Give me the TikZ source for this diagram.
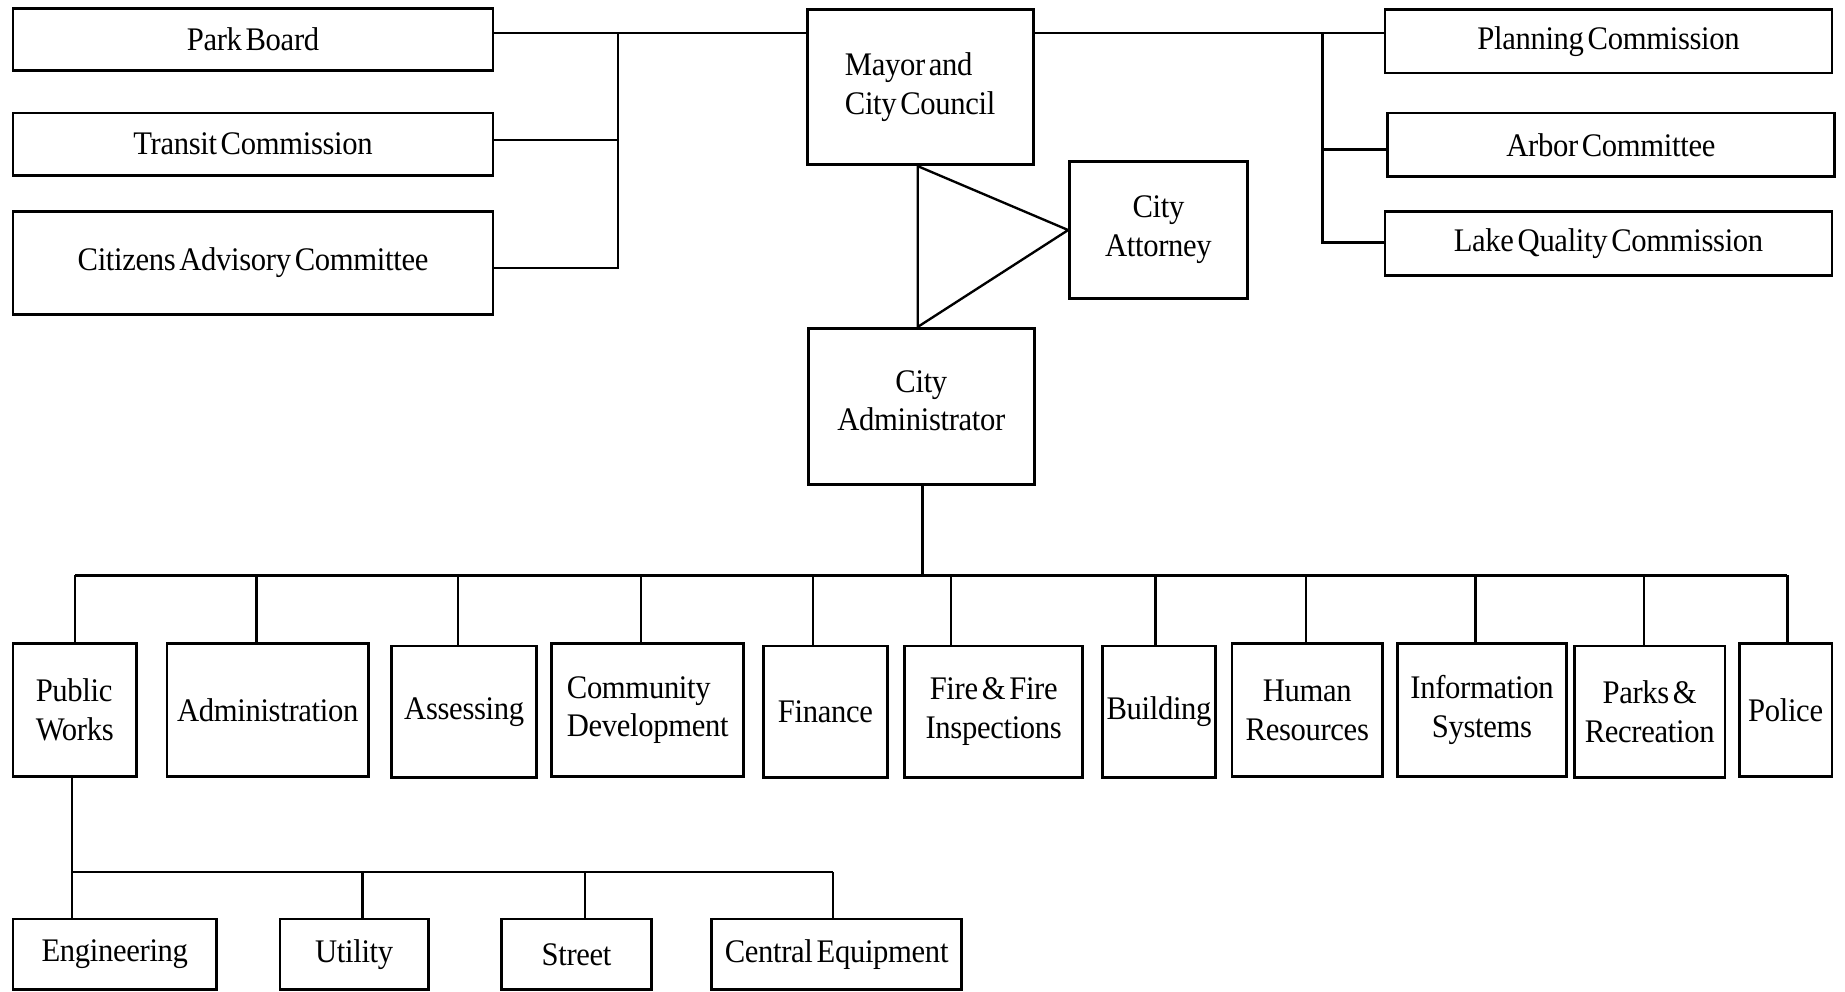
\documentclass[tikz,border=0pt]{standalone}
\usepackage{fontspec}
\setmainfont{Liberation Serif}[FakeStretch=0.93,LetterSpace=-1,WordSpace=0.5]
\begin{document}
\begin{tikzpicture}[x=0.5pt,y=-0.5pt,
  box/.style={draw,line width=1.2pt,inner sep=0pt,align=center,
    font=\fontsize{14}{16.5}\selectfont},
  conn/.style={line width=1pt}]
\useasboundingbox (0,0) rectangle (1568,843);
\newcommand\B[7][center]{\node[box,align=#1,minimum width={#5*0.5pt},minimum height={#6*0.5pt}] (#2) at (#3,#4) {#7};}
% top left
\B{pb}{215}{33.5}{408}{53}{Park Board}
\B{tc}{215}{122.5}{408}{53}{Transit Commission}
\B{cac}{215}{223.5}{408}{87}{Citizens Advisory Committee}
% centre
\B[left]{mayor}{782}{74}{192}{132}{Mayor and\\City Council}
\B{att}{984.5}{195.5}{151}{117}{City\\Attorney}
\B{adm}{783}{345.5}{192}{133}{City\\Administrator\\[-11.5pt]}
% top right
\B{pc}{1367}{35}{380}{54}{Planning Commission}
\B{ac}{1369}{123}{380}{54}{Arbor Committee}
\B{lq}{1367}{207}{380}{54}{Lake Quality Commission}
% departments
\B[left]{pw}{63.5}{603.5}{105}{113}{Public\\Works}
\B{admin}{227.5}{603.5}{171}{113}{Administration}
\B{ass}{394.5}{605}{123}{112}{Assessing}
\B[left]{cd}{550.5}{603.5}{163}{113}{Community\\Development}
\B{fin}{701.5}{605}{105}{112}{Finance}
\B{fire}{844.5}{605}{151}{112}{Fire \& Fire\\Inspections}
\B{bld}{985}{605}{96}{112}{Building}
\B{hr}{1111}{603.5}{128}{113}{Human\\Resources}
\B{is}{1259.5}{603.5}{143}{113}{Information\\Systems}
\B{pr}{1402}{605}{128}{112}{Parks \&\\Recreation}
\B{pol}{1517.5}{603.5}{79}{113}{Police}
% public works divisions
\B{eng}{97.5}{811}{173}{60}{Engineering}
\B{ut}{301}{811}{126}{60}{Utility}
\B{st}{490}{811}{128}{60}{Street}
\B{ce}{711}{811}{212}{60}{Central Equipment}
% helper coordinates
\coordinate (yA) at (0,28);
\coordinate (yT) at (0,119);
\coordinate (yC) at (0,228);
\coordinate (yAr) at (0,127);
\coordinate (yL) at (0,206);
\coordinate (xL) at (525,0);
\coordinate (xR) at (1124,0);
\coordinate (xTri) at (780,0);
\coordinate (xAd) at (784,0);
\coordinate (bus) at (0,489);
\coordinate (pwx) at (61,0);
\coordinate (sbus) at (0,741);
% left committees
\draw[conn] (pb.east |- yA) -- (mayor.west |- yA);
\draw[conn] (xL |- yA) -- (xL |- yC) -- (cac.east |- yC);
\draw[conn] (tc.east |- yT) -- (xL |- yT);
% right committees
\draw[conn] (mayor.east |- yA) -- (pc.west |- yA);
\draw[conn] (xR |- yA) -- (xR |- yL) -- (lq.west |- yL);
\draw[conn] (xR |- yAr) -- (ac.west |- yAr);
% triangle to attorney
\draw[conn,line join=miter] (mayor.south -| xTri) -- (att.west) -- (adm.north -| xTri) -- cycle;
% administrator to departments
\draw[conn] (adm.south -| xAd) -- (xAd |- bus);
\draw[conn] (64,489) -- (1519,489);
\foreach \n/\x in {pw/64,admin/218,ass/389,cd/545,fin/691,fire/808,bld/982,hr/1110,is/1254,pr/1397,pol/1519}
  \draw[conn] (\x,489) -- (\n.north -| {\x,0});
% public works divisions
\draw[conn] (pw.south -| pwx) -- (eng.north -| pwx);
\draw[conn] (pwx |- sbus) -- (708,741);
\foreach \n/\x in {ut/308,st/497,ce/708}
  \draw[conn] (\x,741) -- (\n.north -| {\x,0});
\end{tikzpicture}
\end{document}
